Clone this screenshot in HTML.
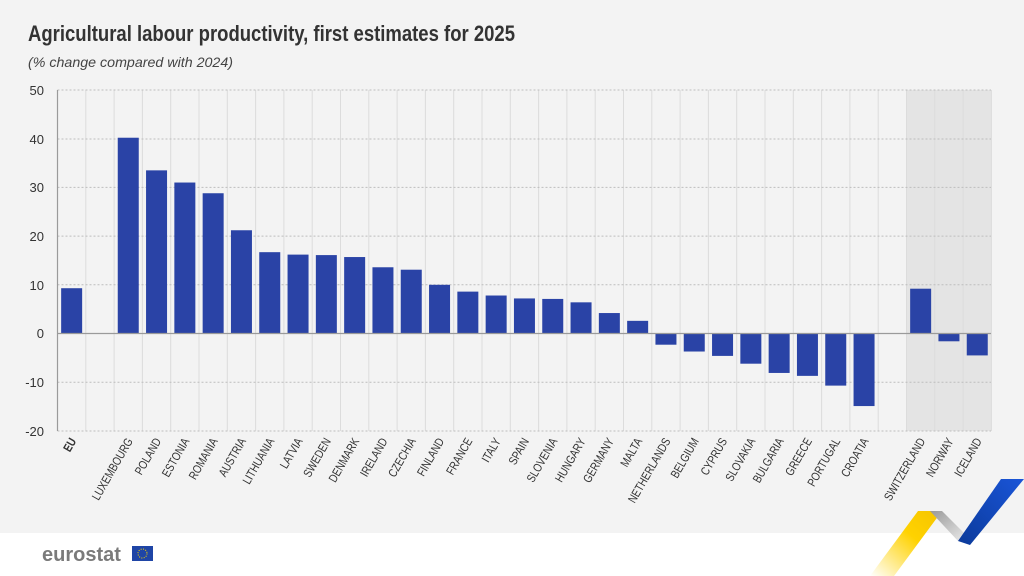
<!DOCTYPE html>
<html><head><meta charset="utf-8"><style>
html,body{margin:0;padding:0;width:1024px;height:576px;overflow:hidden;background:#fff}
svg{display:block}
.t{font-family:"Liberation Sans Narrow","Liberation Sans",sans-serif;font-size:11.5px;fill:#333}
.y{font-family:"Liberation Sans Narrow","Liberation Sans",sans-serif;font-size:13px;fill:#333}
</style></head><body>
<svg width="1024" height="576" viewBox="0 0 1024 576">
<rect x="0" y="0" width="1024" height="533" fill="#f3f3f3"/>
<text x="28" y="41" font-family="Liberation Sans Narrow,Liberation Sans,sans-serif" font-weight="bold" font-size="22" fill="#333" textLength="487" lengthAdjust="spacingAndGlyphs">Agricultural labour productivity, first estimates for 2025</text>
<text x="28" y="67" font-family="Liberation Sans,sans-serif" font-style="italic" font-size="14" fill="#444" textLength="205" lengthAdjust="spacingAndGlyphs">(% change compared with 2024)</text>
<rect x="906.4" y="90" width="84.9" height="341" fill="#e4e4e4"/>
<g stroke="#dcdcdc" stroke-width="1">
<line x1="85.8" y1="90" x2="85.8" y2="431"/><line x1="114.1" y1="90" x2="114.1" y2="431"/><line x1="142.4" y1="90" x2="142.4" y2="431"/><line x1="170.7" y1="90" x2="170.7" y2="431"/><line x1="199" y1="90" x2="199" y2="431"/><line x1="227.3" y1="90" x2="227.3" y2="431"/><line x1="255.6" y1="90" x2="255.6" y2="431"/><line x1="283.9" y1="90" x2="283.9" y2="431"/><line x1="312.2" y1="90" x2="312.2" y2="431"/><line x1="340.5" y1="90" x2="340.5" y2="431"/><line x1="368.8" y1="90" x2="368.8" y2="431"/><line x1="397.1" y1="90" x2="397.1" y2="431"/><line x1="425.4" y1="90" x2="425.4" y2="431"/><line x1="453.7" y1="90" x2="453.7" y2="431"/><line x1="482" y1="90" x2="482" y2="431"/><line x1="510.3" y1="90" x2="510.3" y2="431"/><line x1="538.6" y1="90" x2="538.6" y2="431"/><line x1="566.9" y1="90" x2="566.9" y2="431"/><line x1="595.2" y1="90" x2="595.2" y2="431"/><line x1="623.5" y1="90" x2="623.5" y2="431"/><line x1="651.8" y1="90" x2="651.8" y2="431"/><line x1="680.1" y1="90" x2="680.1" y2="431"/><line x1="708.4" y1="90" x2="708.4" y2="431"/><line x1="736.7" y1="90" x2="736.7" y2="431"/><line x1="765" y1="90" x2="765" y2="431"/><line x1="793.3" y1="90" x2="793.3" y2="431"/><line x1="821.6" y1="90" x2="821.6" y2="431"/><line x1="849.9" y1="90" x2="849.9" y2="431"/><line x1="878.2" y1="90" x2="878.2" y2="431"/><line x1="906.5" y1="90" x2="906.5" y2="431"/><line x1="934.8" y1="90" x2="934.8" y2="431"/><line x1="963.1" y1="90" x2="963.1" y2="431"/><line x1="991.4" y1="90" x2="991.4" y2="431"/>
</g>
<g stroke="#bdbdbd" stroke-width="1" stroke-dasharray="2,2">
<line x1="57.5" y1="90" x2="991" y2="90"/><line x1="57.5" y1="139" x2="991" y2="139"/><line x1="57.5" y1="187.4" x2="991" y2="187.4"/><line x1="57.5" y1="236.1" x2="991" y2="236.1"/><line x1="57.5" y1="284.8" x2="991" y2="284.8"/><line x1="57.5" y1="382.2" x2="991" y2="382.2"/><line x1="57.5" y1="431" x2="991" y2="431"/>
</g>
<g fill="#2a43a6" transform="translate(0,333.5) scale(1,-4.87)">
<rect x="61.15" y="0" width="21" height="9.3"/>
<rect x="117.75" y="0" width="21" height="40.2"/>
<rect x="146.05" y="0" width="21" height="33.5"/>
<rect x="174.35" y="0" width="21" height="31"/>
<rect x="202.65" y="0" width="21" height="28.8"/>
<rect x="230.95" y="0" width="21" height="21.2"/>
<rect x="259.25" y="0" width="21" height="16.7"/>
<rect x="287.55" y="0" width="21" height="16.2"/>
<rect x="315.85" y="0" width="21" height="16.1"/>
<rect x="344.15" y="0" width="21" height="15.7"/>
<rect x="372.45" y="0" width="21" height="13.6"/>
<rect x="400.75" y="0" width="21" height="13.1"/>
<rect x="429.05" y="0" width="21" height="10"/>
<rect x="457.35" y="0" width="21" height="8.6"/>
<rect x="485.65" y="0" width="21" height="7.8"/>
<rect x="513.95" y="0" width="21" height="7.2"/>
<rect x="542.25" y="0" width="21" height="7.1"/>
<rect x="570.55" y="0" width="21" height="6.4"/>
<rect x="598.85" y="0" width="21" height="4.2"/>
<rect x="627.15" y="0" width="21" height="2.6"/>
<rect x="655.45" y="-2.3" width="21" height="2.3"/>
<rect x="683.75" y="-3.7" width="21" height="3.7"/>
<rect x="712.05" y="-4.6" width="21" height="4.6"/>
<rect x="740.35" y="-6.2" width="21" height="6.2"/>
<rect x="768.65" y="-8.1" width="21" height="8.1"/>
<rect x="796.95" y="-8.7" width="21" height="8.7"/>
<rect x="825.25" y="-10.7" width="21" height="10.7"/>
<rect x="853.55" y="-14.9" width="21" height="14.9"/>
<rect x="910.15" y="0" width="21" height="9.2"/>
<rect x="938.45" y="-1.6" width="21" height="1.6"/>
<rect x="966.75" y="-4.5" width="21" height="4.5"/>
</g>
<line x1="57.5" y1="333.5" x2="991" y2="333.5" stroke="#9a9a9a" stroke-width="1.2"/>
<line x1="57.5" y1="90" x2="57.5" y2="431" stroke="#9a9a9a" stroke-width="1.2"/>
<g class="y" text-anchor="end">
<text x="44" y="95">50</text><text x="44" y="144">40</text><text x="44" y="192">30</text><text x="44" y="241">20</text><text x="44" y="290">10</text><text x="44" y="338">0</text><text x="44" y="387">-10</text><text x="44" y="436">-20</text>
</g>
<g class="t" text-anchor="end">
<text transform="translate(76.6,441) rotate(-60) scale(0.85,1.05)" font-weight="bold">EU</text>
<text transform="translate(133.2,441) rotate(-60) scale(0.85,1.05)">LUXEMBOURG</text>
<text transform="translate(161.5,441) rotate(-60) scale(0.85,1.05)">POLAND</text>
<text transform="translate(189.8,441) rotate(-60) scale(0.85,1.05)">ESTONIA</text>
<text transform="translate(218.1,441) rotate(-60) scale(0.85,1.05)">ROMANIA</text>
<text transform="translate(246.4,441) rotate(-60) scale(0.85,1.05)">AUSTRIA</text>
<text transform="translate(274.7,441) rotate(-60) scale(0.85,1.05)">LITHUANIA</text>
<text transform="translate(303,441) rotate(-60) scale(0.85,1.05)">LATVIA</text>
<text transform="translate(331.3,441) rotate(-60) scale(0.85,1.05)">SWEDEN</text>
<text transform="translate(359.6,441) rotate(-60) scale(0.85,1.05)">DENMARK</text>
<text transform="translate(387.9,441) rotate(-60) scale(0.85,1.05)">IRELAND</text>
<text transform="translate(416.2,441) rotate(-60) scale(0.85,1.05)">CZECHIA</text>
<text transform="translate(444.5,441) rotate(-60) scale(0.85,1.05)">FINLAND</text>
<text transform="translate(472.8,441) rotate(-60) scale(0.85,1.05)">FRANCE</text>
<text transform="translate(501.1,441) rotate(-60) scale(0.85,1.05)">ITALY</text>
<text transform="translate(529.4,441) rotate(-60) scale(0.85,1.05)">SPAIN</text>
<text transform="translate(557.7,441) rotate(-60) scale(0.85,1.05)">SLOVENIA</text>
<text transform="translate(586,441) rotate(-60) scale(0.85,1.05)">HUNGARY</text>
<text transform="translate(614.3,441) rotate(-60) scale(0.85,1.05)">GERMANY</text>
<text transform="translate(642.6,441) rotate(-60) scale(0.85,1.05)">MALTA</text>
<text transform="translate(670.9,441) rotate(-60) scale(0.85,1.05)">NETHERLANDS</text>
<text transform="translate(699.2,441) rotate(-60) scale(0.85,1.05)">BELGIUM</text>
<text transform="translate(727.5,441) rotate(-60) scale(0.85,1.05)">CYPRUS</text>
<text transform="translate(755.8,441) rotate(-60) scale(0.85,1.05)">SLOVAKIA</text>
<text transform="translate(784.1,441) rotate(-60) scale(0.85,1.05)">BULGARIA</text>
<text transform="translate(812.4,441) rotate(-60) scale(0.85,1.05)">GREECE</text>
<text transform="translate(840.7,441) rotate(-60) scale(0.85,1.05)">PORTUGAL</text>
<text transform="translate(869,441) rotate(-60) scale(0.85,1.05)">CROATIA</text>
<text transform="translate(925.6,441) rotate(-60) scale(0.85,1.05)">SWITZERLAND</text>
<text transform="translate(953.9,441) rotate(-60) scale(0.85,1.05)">NORWAY</text>
<text transform="translate(982.2,441) rotate(-60) scale(0.85,1.05)">ICELAND</text>
</g>
<text x="42" y="561" font-family="Liberation Sans,sans-serif" font-weight="bold" font-size="20" fill="#7a7a7a">eurostat</text>
<rect x="132" y="546" width="21" height="15" fill="#1f45a6"/>
<circle cx="142.5" cy="553.5" r="4.5" fill="none" stroke="#f5d000" stroke-width="1" stroke-dasharray="1,1.4"/>
<defs>
<linearGradient id="gy" x1="0" y1="1" x2="1" y2="0"><stop offset="0" stop-color="#ffd200" stop-opacity="0"/><stop offset="0.6" stop-color="#ffd200"/><stop offset="1" stop-color="#f5c400"/></linearGradient>
<linearGradient id="gg" x1="0" y1="0" x2="1" y2="1"><stop offset="0" stop-color="#999"/><stop offset="1" stop-color="#f0f0f0"/></linearGradient>
<linearGradient id="gb" x1="0" y1="1" x2="1" y2="0"><stop offset="0" stop-color="#0b3a9a"/><stop offset="1" stop-color="#1a55d8"/></linearGradient>
</defs>
<polygon points="870,576 918,511 942,511 894,576" fill="url(#gy)"/>
<polygon points="930,511 942,511 972,541 958,541" fill="url(#gg)"/>
<polygon points="958,541 1001,479 1024,479 970,545" fill="url(#gb)"/>
</svg>
</body></html>
